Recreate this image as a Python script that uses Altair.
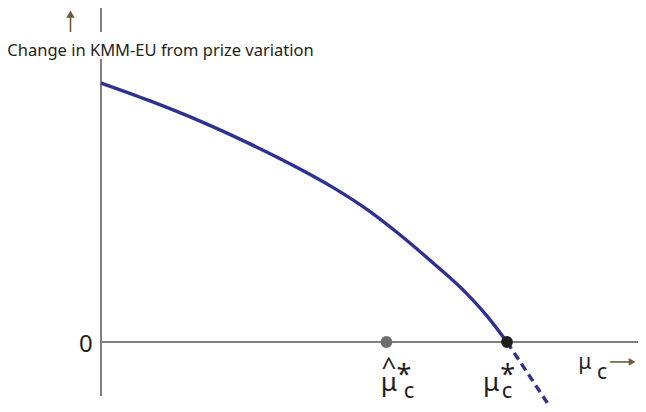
import altair as alt
import pandas as pd

# ---- data (chart units: mu*_c = 1 on x, curve intercept = 1 on y) ----
curve_x = [0.0, 0.121, 0.244, 0.367, 0.490, 0.571, 0.655, 0.737, 0.818, 0.902, 0.951, 1.0]
curve_y = [1.0, 0.931, 0.853, 0.765, 0.668, 0.597, 0.512, 0.413, 0.305, 0.185, 0.100, 0.0]
dash_x = [1.0, 1.101]
dash_y = [0.0, -0.239]
pt_x = [0.703, 1.0]
pt_y = [0.0, 0.0]
pt_color = ["#6d6e71", "#231f20"]
y_title = "Change in KMM-EU from prize variation"
zero_label = "0"
x_label_main = ["^\nμ", "μ", "μ"]
x_label_star = ["*", "*"]
x_label_sub = ["c", "c", "c"]

X_DOM = [-0.22906, 1.32266]
Y_DOM = [-0.23938, 1.28958]
xs = alt.Scale(domain=X_DOM, nice=False, zero=False)
ys = alt.Scale(domain=Y_DOM, nice=False, zero=False)
AX = "#808080"
BROWN = "#6e5a3a"
NAVY = "#2e3192"
INK = "#231f20"
FONT = "Noto Sans"


def enc(**kw):
    out = {}
    for k, v in kw.items():
        if k == "x":
            out[k] = alt.X(v, type="quantitative", scale=xs, axis=None)
        elif k == "x2":
            out[k] = alt.X2(v)
        elif k == "y":
            out[k] = alt.Y(v, type="quantitative", scale=ys, axis=None)
        elif k == "y2":
            out[k] = alt.Y2(v)
        else:
            out[k] = v
    return out


# axes (drawn as rules; vertical one broken around its title)
vaxis = pd.DataFrame({"x": [0.0, 0.0], "y": [1.197, -0.2085], "y2": [1.2896, 1.0927]})
haxis = pd.DataFrame({"x": [0.0], "x2": [1.32266], "y": [0.0]})

l_vaxis = alt.Chart(vaxis).mark_rule(color=AX, strokeWidth=2).encode(**enc(x="x", y="y", y2="y2"))
l_haxis = alt.Chart(haxis).mark_rule(color=AX, strokeWidth=2).encode(**enc(x="x", x2="x2", y="y"))

curve = pd.DataFrame({"x": curve_x, "y": curve_y})
l_curve = alt.Chart(curve).mark_line(color=NAVY, strokeWidth=3.4, interpolate="monotone").encode(**enc(x="x", y="y"))
dash = pd.DataFrame({"x": dash_x, "y": dash_y})
l_dash = alt.Chart(dash).mark_line(color=NAVY, strokeWidth=3.4, strokeDash=[8, 5], clip=True).encode(**enc(x="x", y="y"))

pts = pd.DataFrame({"x": pt_x, "y": pt_y, "c": pt_color})
l_pts = alt.Chart(pts).mark_circle(opacity=1, size=140).encode(
    **enc(x="x", y="y"), color=alt.Color("c:N", scale=None)
)

# arrows
up_shaft = pd.DataFrame({"x": [-0.0751], "y": [1.197], "y2": [1.262]})
l_up_shaft = alt.Chart(up_shaft).mark_rule(color=BROWN, strokeWidth=1.6).encode(**enc(x="x", y="y", y2="y2"))
up_head = pd.DataFrame({"x": [-0.0751], "y": [1.266]})
l_up_head = alt.Chart(up_head).mark_point(shape="triangle-up", filled=True, opacity=1, size=70, color=BROWN).encode(**enc(x="x", y="y"))
r_shaft = pd.DataFrame({"x": [1.254], "x2": [1.302], "y": [-0.077]})
l_r_shaft = alt.Chart(r_shaft).mark_rule(color=BROWN, strokeWidth=1.6).encode(**enc(x="x", x2="x2", y="y"))
r_head = pd.DataFrame({"x": [1.308], "y": [-0.077]})
l_r_head = alt.Chart(r_head).mark_point(shape="triangle-right", filled=True, opacity=1, size=60, color=BROWN).encode(**enc(x="x", y="y"))

# texts
t_title = alt.Chart(pd.DataFrame({"x": [0.1466], "y": [1.104], "t": [y_title]})).mark_text(
    font=FONT, fontSize=16.5, color=INK, align="center", baseline="alphabetic"
).encode(**enc(x="x", y="y"), text="t:N")
t_zero = alt.Chart(pd.DataFrame({"x": [-0.037], "y": [-0.0386], "t": [zero_label]})).mark_text(
    font=FONT, fontSize=24, color=INK, align="center", baseline="alphabetic"
).encode(**enc(x="x", y="y"), text="t:N")

# mu's: first is "hat over mu" (2 lines, first-line baseline given), then mu*, then axis-end mu
mu = pd.DataFrame({
    "x": [0.709, 0.961, 1.192],
    "y": [-0.133, -0.189, -0.104],
    "t": x_label_main,
    "s": [26, 26, 21],
})
t_mu = alt.Chart(mu).mark_text(font=FONT, color=INK, align="center", baseline="alphabetic",
                               lineBreak="\n", lineHeight=14.5).encode(
    **enc(x="x", y="y"), text="t:N", size=alt.Size("s:Q", scale=None)
)
star = pd.DataFrame({"x": [0.746, 1.002], "y": [-0.163, -0.163], "t": x_label_star})
t_star = alt.Chart(star).mark_text(font=FONT, fontSize=27, color=INK, align="center", baseline="alphabetic").encode(
    **enc(x="x", y="y"), text="t:N"
)
sub = pd.DataFrame({"x": [0.759, 1.0, 1.234], "y": [-0.2143, -0.2143, -0.143], "t": x_label_sub, "s": [22, 22, 21]})
t_sub = alt.Chart(sub).mark_text(font=FONT, color=INK, align="center", baseline="alphabetic").encode(
    **enc(x="x", y="y"), text="t:N", size=alt.Size("s:Q", scale=None)
)

chart = alt.layer(
    l_vaxis, l_haxis, l_curve, l_dash, l_pts,
    l_up_shaft, l_up_head, l_r_shaft, l_r_head,
    t_title, t_zero, t_mu, t_star, t_sub,
).properties(
    width=630, height=396, autosize=alt.AutoSizeParams(type="none"), padding=0
).configure_view(strokeWidth=0)

chart.save("out.html", embed_options={"renderer": "svg", "actions": False})
